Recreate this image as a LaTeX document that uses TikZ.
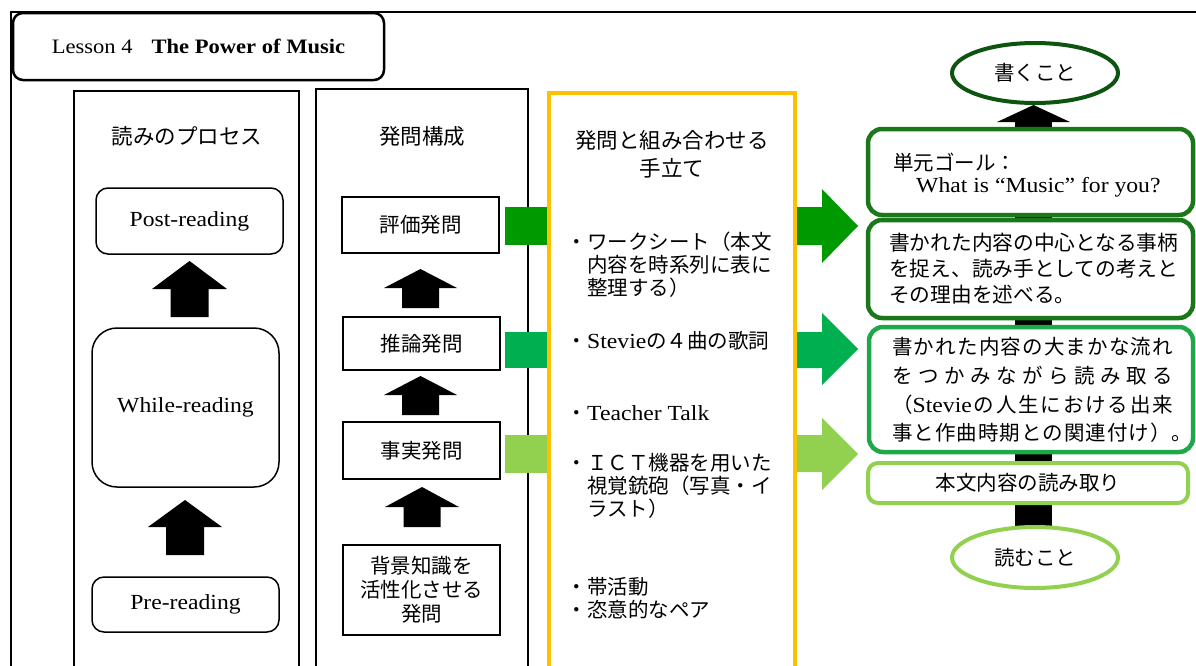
\documentclass[tikz,border=0pt]{standalone}
\usepackage{fontspec}
\setmainfont{Noto Sans CJK JP}
\newfontfamily\latf[FakeStretch=1.1]{Liberation Serif}
\usetikzlibrary{shapes.geometric}
\definecolor{dkg}{HTML}{009A00}
\definecolor{mdg}{HTML}{00B050}
\definecolor{ltg}{HTML}{92D050}
\definecolor{bxa}{HTML}{1A771A}
\definecolor{elt}{HTML}{0D5410}
\definecolor{bxc}{HTML}{1FA84A}
\definecolor{ylw}{HTML}{FFC000}
\newcommand\lat{\latf\fontsize{21.5}{23}\selectfont}
\def\sprd#1{\sprdA#1\relax\unskip}
\def\sprdA#1{\ifx\relax#1\else#1\hfill\expandafter\sprdA\fi}
% cx, tip, base, bottom, head half width, shaft half width
\newcommand\blockup[6]{\fill (#1-#6,#4) -- (#1-#6,#3) -- (#1-#5,#3) -- (#1,#2) -- (#1+#5,#3) -- (#1+#6,#3) -- (#1+#6,#4) -- cycle;}
% y shaft top, shaft bottom, head top, head bottom, tip y, colour
\newcommand\blockright[6]{\fill[#6] (797,#1) -- (822,#1) -- (822,#3) -- (858,#5) -- (822,#4) -- (822,#2) -- (797,#2) -- cycle;}
\begin{document}
\begin{tikzpicture}[x=1pt,y=-1pt,
  jp/.style={font=\fontsize{20.5}{23}\selectfont, inner sep=0pt},
  coltitle/.style={inner sep=0pt, font=\fontsize{21.5}{28}\selectfont},
  column/.style={draw, line width=1.6pt},
  qbox/.style={draw, line width=1.5pt, fill=white, minimum width=157, jp},
  pbox/.style={draw, line width=1.5pt, fill=white, rounded corners=12pt, minimum width=187, font=\lat},
  gbox/.style={line width=4.5pt, fill=white, rounded corners=14pt, minimum width=325},
  oval/.style={ellipse, line width=4pt, fill=white, minimum width=166, minimum height=60, jp}]
\useasboundingbox (0,0) rectangle (1196,665);
\clip (0,0) rectangle (1196,665);
\fill[white] (0,0) rectangle (1196,665);
% outer frame
\draw[line width=1.8pt] (11,690) -- (11,12) -- (1210,12);
% title
\node[draw, line width=2.5pt, rounded corners=10pt, minimum width=371, minimum height=67] (title) at (198.5,46.5)
  {{\latf\fontsize{20.5}{22}\selectfont Lesson 4\hspace{19pt}\bfseries The Power of Music}};
% left column
\node[column, minimum width=225, minimum height=580] (col1) at (186.5,381) {};
\node[coltitle] (col1t) at (187,136) {読みのプロセス};
\node[pbox, minimum height=66] (post) at (189.5,221) {Post-reading};
\node[pbox, minimum height=159, rounded corners=25pt] (while) at (185.5,407.5) {While-reading};
\node[pbox, minimum height=55] (pre) at (185.5,604.5) {Pre-reading};
\blockup{189.5}{261}{289}{317}{37.5}{19}
\blockup{185}{500}{527}{555}{37}{19}
% middle column
\node[column, minimum width=212, minimum height=582] (col2) at (422,380) {};
\node[coltitle] (col2t) at (422,136) {発問構成};
\node[qbox, minimum height=56] (q1) at (420.5,225) {評価発問};
\node[qbox, minimum height=53] (q2) at (421.5,343.5) {推論発問};
\node[qbox, minimum height=57] (q3) at (421.5,450.5) {事実発問};
\node[qbox, minimum height=90, align=center, font=\fontsize{20.5}{24}\selectfont] (q4) at (421.5,590) {背景知識を\\活性化させる\\発問};
\blockup{420.5}{269}{288}{308}{36.5}{18.5}
\blockup{420.5}{376}{395}{415}{36.5}{18.5}
\blockup{422}{487}{507}{527}{37}{18.5}
% green links into yellow box
\fill[dkg] (505,207) rectangle (551,245);
\fill[mdg] (505,332) rectangle (551,368);
\fill[ltg] (505,435) rectangle (551,473);
% yellow column
\node[draw=ylw, line width=4.5pt, minimum width=246, minimum height=578] (col3) at (672,382) {};
\node[coltitle, align=center] (col3t) at (672,154) {発問と組み合わせる\\手立て};
\node[jp, anchor=west, align=left] (m1) at (587,265) {\llap{・}ワークシート（本文\\内容を時系列に表に\\整理する）};
\node[jp, anchor=west] (m2) at (587,341) {\llap{・}{\lat Stevie}の４曲の歌詞};
\node[jp, anchor=west] (m3) at (587,413) {\llap{・}{\lat Teacher Talk}};
\node[jp, anchor=west, align=left] (m4) at (587,486) {\llap{・}ＩＣＴ機器を用いた\\視覚銃砲（写真・イ\\ラスト）};
\node[jp, anchor=west, align=left] (m5) at (587,598.5) {\llap{・}帯活動\\\llap{・}恣意的なペア};
% green arrows out
\blockright{207}{245}{189}{263}{226}{dkg}
\blockright{332}{368}{313}{385}{349}{mdg}
\blockright{435}{472}{418}{490}{454}{ltg}
% right column
\fill (1015,118) rectangle (1052,540);
\fill (997,122) -- (1033.5,105) -- (1070,122) -- cycle;
\node[oval, draw=elt] (write) at (1035,73) {書くこと};
\node[gbox, draw=bxa, minimum height=86] (goal) at (1030.5,172) {};
\node[jp, anchor=west, align=left, font=\fontsize{20.5}{22}\selectfont] (goalt) at (893,175)
  {単元ゴール：\\\hspace*{23pt}{\lat What is “Music” for you?}};
\node[gbox, draw=bxa, minimum height=98] (r2) at (1030.5,269) {};
\node[jp, anchor=west, align=left, font=\fontsize{20.7}{26}\selectfont] (r2t) at (889,269)
  {書かれた内容の中心となる事柄\\を捉え、読み手としての考えと\\その理由を述べる。};
\node[gbox, draw=bxc, minimum height=125, minimum width=324] (r3) at (1031,389.5) {};
\node[jp, anchor=west, align=left, font=\fontsize{20.5}{28.7}\selectfont] (r3t) at (892,390)
  {\makebox[281pt][s]{\sprd{書かれた内容の大まかな流れ}}\\
   \makebox[281pt][s]{\sprd{をつかみながら読み取る}}\\
   \makebox[281pt][s]{（{\lat Stevie}\hfill\sprd{の人生における出来}}\\
   \makebox[300pt][s]{\sprd{事と作曲時期との関連付け）。}}};
\node[gbox, draw=ltg, line width=4pt, rounded corners=10pt, minimum width=320, minimum height=40, jp] (r4) at (1028,483) {本文内容の読み取り};
\node[oval, draw=ltg, minimum height=61] (read) at (1035,557.5) {読むこと};
\end{tikzpicture}
\end{document}
